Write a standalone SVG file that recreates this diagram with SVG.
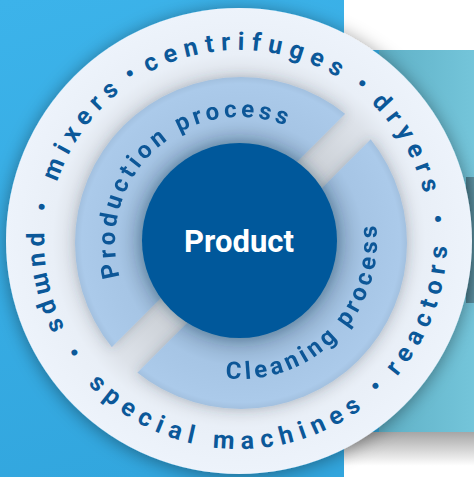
<svg xmlns="http://www.w3.org/2000/svg" width="474" height="477" viewBox="0 0 474 477">
<defs>
  <linearGradient id="bg" x1="0" y1="0" x2="0.3" y2="1">
    <stop offset="0" stop-color="#3cb3ea"/>
    <stop offset="1" stop-color="#32a6de"/>
  </linearGradient>
  <linearGradient id="teal" x1="0" y1="0" x2="1" y2="0">
    <stop offset="0" stop-color="#5fb0c6"/>
    <stop offset="1" stop-color="#74c5da"/>
  </linearGradient>
  <linearGradient id="strip" x1="0" y1="0" x2="1" y2="0">
    <stop offset="0" stop-color="#4a7b8b"/>
    <stop offset="1" stop-color="#5a8e9e"/>
  </linearGradient>
  <linearGradient id="wshadow" x1="0" y1="0" x2="0" y2="1">
    <stop offset="0" stop-color="#a6a6a6"/>
    <stop offset="0.75" stop-color="#ffffff"/>
  </linearGradient>
  <radialGradient id="outerG" cx="239" cy="241" r="233" gradientUnits="userSpaceOnUse">
    <stop offset="0" stop-color="#c4c9cf"/>
    <stop offset="0.42" stop-color="#c9ced4"/>
    <stop offset="0.71" stop-color="#dde2e9"/>
    <stop offset="0.8" stop-color="#e9eff7"/>
    <stop offset="1" stop-color="#edf3fb"/>
  </radialGradient>
  <radialGradient id="ringG" cx="241" cy="243" r="166" gradientUnits="userSpaceOnUse">
    <stop offset="0.58" stop-color="#8eacca"/>
    <stop offset="0.74" stop-color="#a6c5e5"/>
    <stop offset="0.96" stop-color="#abcaea"/>
    <stop offset="1" stop-color="#a2c0df"/>
  </radialGradient>
  <filter id="shBig" x="-20%" y="-20%" width="140%" height="140%">
    <feDropShadow dx="0" dy="2" stdDeviation="9" flood-color="#000" flood-opacity="0.4"/>
  </filter>
  <filter id="shRing" x="-20%" y="-20%" width="140%" height="140%">
    <feDropShadow dx="0" dy="0" stdDeviation="6" flood-color="#3a4a5a" flood-opacity="0.3"/>
  </filter>
  <filter id="shCore" x="-30%" y="-30%" width="160%" height="160%">
    <feDropShadow dx="0" dy="0" stdDeviation="8" flood-color="#1a3050" flood-opacity="0.45"/>
  </filter>
  <clipPath id="cA"><polygon points="0,0 459,0 0,459"/></clipPath>
  <clipPath id="cB"><polygon points="510,0 600,0 600,600 0,600 0,510"/></clipPath>
  <path id="pTop" d="M 48,241 A 191 191 0 1 1 430,241 A 191 191 0 1 1 48,241"/>
  <path id="pBot" d="M 239,33 A 208 208 0 1 0 239,449 A 208 208 0 1 0 239,33"/>
  <path id="pProd" d="M 240,367 A 125 125 0 1 1 240,117 A 125 125 0 1 1 240,367"/>
  <path id="pClean" d="M 240,105 A 137 137 0 1 0 240,379 A 137 137 0 1 0 240,105"/>
</defs>
<style>
  .o { font-family: Roboto, "Liberation Sans", sans-serif; font-weight: 700; font-size: 25px; letter-spacing: 7px; fill: #0b5899; }
  .i { font-family: Roboto, "Liberation Sans", sans-serif; font-weight: 700; font-size: 24px; letter-spacing: 4px; fill: #0b5797; }
  .c { font-family: Roboto, "Liberation Sans", sans-serif; font-weight: 700; font-size: 31px; fill: #ffffff; }
</style>

<g id="background">
  <rect x="0" y="0" width="474" height="477" fill="url(#bg)"/>
  <rect x="344" y="0" width="130" height="50" fill="#ffffff"/>
  <rect x="379" y="50" width="95" height="382" fill="url(#teal)"/>
  <rect x="466" y="177" width="8" height="126" fill="url(#strip)"/>
  <rect x="344" y="432" width="130" height="45" fill="url(#wshadow)"/>
</g>

<g id="outer-ring">
  <circle cx="239" cy="241" r="233" fill="url(#outerG)" filter="url(#shBig)"/>
  <g class="o" text-anchor="middle">
    <text><textPath href="#pTop" startOffset="36">•</textPath></text>
    <text><textPath href="#pTop" startOffset="119">mixers</textPath></text>
    <text><textPath href="#pTop" startOffset="193">•</textPath></text>
    <text><textPath href="#pTop" startOffset="308">centrifuges</textPath></text>
    <text><textPath href="#pTop" startOffset="430">•</textPath></text>
    <text><textPath href="#pTop" startOffset="502">dryers</textPath></text>
    <text><textPath href="#pTop" startOffset="582">•</textPath></text>
    <text><textPath href="#pBot" startOffset="374">pumps</textPath></text>
    <text><textPath href="#pBot" startOffset="454">•</textPath></text>
    <text><textPath href="#pBot" startOffset="638">special machines</textPath></text>
    <text><textPath href="#pBot" startOffset="814">•</textPath></text>
    <text><textPath href="#pBot" startOffset="907">reactors</textPath></text>
  </g>
</g>

<g id="ring-production" filter="url(#shRing)">
  <circle cx="241" cy="243" r="166" fill="url(#ringG)" clip-path="url(#cA)"/>
  <text class="i" text-anchor="middle"><textPath href="#pProd" startOffset="302">Production process</textPath></text>
</g>

<g id="ring-cleaning" filter="url(#shRing)">
  <circle cx="241" cy="243" r="166" fill="url(#ringG)" clip-path="url(#cB)"/>
  <text class="i" text-anchor="middle"><textPath href="#pClean" startOffset="541">Cleaning process</textPath></text>
</g>

<g id="product">
  <circle cx="239.5" cy="240.5" r="97.5" fill="#00599b" filter="url(#shCore)"/>
  <text class="c" x="239" y="252" text-anchor="middle">Product</text>
</g>
</svg>
